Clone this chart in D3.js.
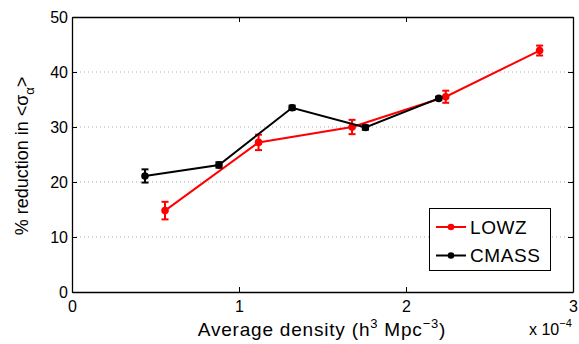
<!DOCTYPE html>
<html><head><meta charset="utf-8">
<script src="https://cdnjs.cloudflare.com/ajax/libs/d3/7.8.5/d3.min.js"></script>
<style>body{margin:0;background:#fff}svg text{font-family:"Liberation Sans",Arial,sans-serif}</style>
</head><body><svg id="c" width="579" height="344"></svg>
<script>
const xTicks = [0, 1, 2, 3];
const yTicks = [0, 10, 20, 30, 40, 50];
const seriesNames = ["LOWZ", "CMASS"];
const seriesColors = ["#ff0000", "#000000"];
const lowzX = [0.557, 1.117, 1.677, 2.238, 2.80];
const lowzY = [14.8, 27.2, 30.0, 35.5, 43.9];
const lowzErr = [1.6, 1.4, 1.3, 1.1, 0.9];
const cmassX = [0.437, 0.880, 1.318, 1.757, 2.196];
const cmassY = [21.1, 23.1, 33.5, 29.9, 35.2];
const cmassErr = [1.2, 0.5, 0.4, 0.4, 0.3];

const svg = d3.select("#c");
const L = 72, R = 573, T = 17, B = 292;
const x = d3.scaleLinear().domain([0, 3]).range([L, R]);
const y = d3.scaleLinear().domain([0, 50]).range([B, T]);

// grid
svg.append("g").selectAll("line").data(yTicks.filter(d => d > 0 && d < 50)).join("line")
  .attr("x1", L).attr("x2", R).attr("y1", d => y(d)).attr("y2", d => y(d))
  .attr("stroke", "#aaa").attr("stroke-width", 1).attr("stroke-dasharray", "1,3");

// axes
svg.append("g").attr("transform", `translate(0,${B})`)
  .call(d3.axisBottom(x).tickValues(xTicks).tickFormat(d3.format("d")).tickSizeInner(-5).tickSizeOuter(0).tickPadding(9));
svg.append("g").attr("transform", `translate(${L},0)`)
  .call(d3.axisLeft(y).tickValues(yTicks).tickFormat(d3.format("d")).tickSizeInner(-5).tickSizeOuter(0).tickPadding(4));
svg.append("g").attr("transform", `translate(0,${T})`)
  .call(d3.axisTop(x).tickValues(xTicks).tickFormat("").tickSizeInner(-5).tickSizeOuter(0));
svg.append("g").attr("transform", `translate(${R},0)`)
  .call(d3.axisRight(y).tickValues(yTicks).tickFormat("").tickSizeInner(-5).tickSizeOuter(0));
svg.selectAll(".domain").attr("stroke", "#000").attr("stroke-width", 1.3);
svg.selectAll(".tick line").attr("stroke", "#000");
svg.selectAll(".tick text").attr("font-size", 16).attr("fill", "#000").style("font-family", "Liberation Sans, Arial, sans-serif");

// series
const series = [
  {name: seriesNames[0], color: seriesColors[0], xs: lowzX, ys: lowzY, es: lowzErr},
  {name: seriesNames[1], color: seriesColors[1], xs: cmassX, ys: cmassY, es: cmassErr}
];
const line = d3.line().x(d => x(d.x)).y(d => y(d.y));
series.forEach(s => {
  const pts = s.xs.map((v, i) => ({x: v, y: s.ys[i], e: s.es[i]}));
  const g = svg.append("g");
  g.append("path").datum(pts).attr("d", line).attr("fill", "none").attr("stroke", s.color).attr("stroke-width", 2);
  const eb = g.selectAll(".eb").data(pts).join("g").attr("stroke", s.color).attr("stroke-width", 2);
  eb.append("line").attr("x1", d => x(d.x)).attr("x2", d => x(d.x)).attr("y1", d => y(d.y - d.e)).attr("y2", d => y(d.y + d.e));
  eb.append("line").attr("x1", d => x(d.x) - 3.5).attr("x2", d => x(d.x) + 3.5).attr("y1", d => y(d.y - d.e)).attr("y2", d => y(d.y - d.e));
  eb.append("line").attr("x1", d => x(d.x) - 3.5).attr("x2", d => x(d.x) + 3.5).attr("y1", d => y(d.y + d.e)).attr("y2", d => y(d.y + d.e));
  g.selectAll("circle").data(pts).join("circle").attr("cx", d => x(d.x)).attr("cy", d => y(d.y)).attr("r", 3.8).attr("fill", s.color);
});

// legend
const lg = svg.append("g");
lg.append("rect").attr("x", 429.5).attr("y", 208.5).attr("width", 121).attr("height", 62)
  .attr("fill", "#fff").attr("stroke", "#000").attr("stroke-width", 1);
series.forEach((s, i) => {
  const yy = 227 + i * 28.5;
  lg.append("line").attr("x1", 436).attr("x2", 466).attr("y1", yy).attr("y2", yy).attr("stroke", s.color).attr("stroke-width", 2);
  lg.append("circle").attr("cx", 451).attr("cy", yy).attr("r", 3.3).attr("fill", s.color);
  lg.append("text").attr("x", 470).attr("y", yy + 6.5).attr("font-size", 19).attr("letter-spacing", 0.6).text(s.name);
});

// labels
const xl = svg.append("text").attr("x", 322).attr("y", 336).attr("text-anchor", "middle").attr("font-size", 19).attr("letter-spacing", 0.8);
xl.append("tspan").text("Average density (h");
xl.append("tspan").attr("dy", -8).attr("font-size", 13).text("3");
xl.append("tspan").attr("dy", 8).text(" Mpc");
xl.append("tspan").attr("dy", -8).attr("font-size", 13).text("−3");
xl.append("tspan").attr("dy", 8).text(")");

const yl = svg.append("text").attr("transform", "translate(28,156) rotate(-90)").attr("text-anchor", "middle").attr("font-size", 18);
yl.append("tspan").text("% reduction in <σ");
yl.append("tspan").attr("dy", 6).attr("font-size", 13).text("α");
yl.append("tspan").attr("dy", -6).text(">");

const ex = svg.append("text").attr("x", 529).attr("y", 335).attr("font-size", 16);
ex.append("tspan").text("x 10");
ex.append("tspan").attr("dy", -8).attr("font-size", 11).text("−4");
</script></body></html>
